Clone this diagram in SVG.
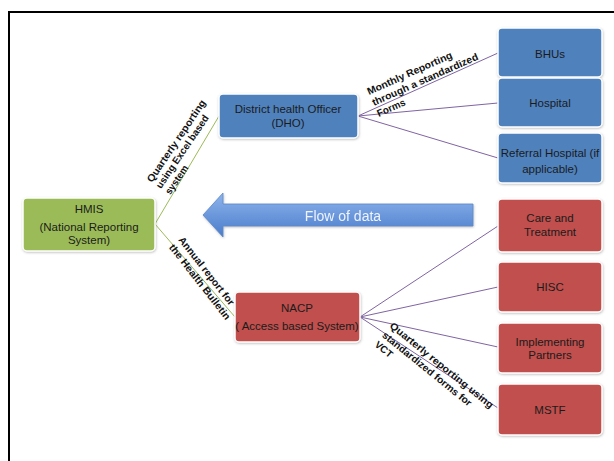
<svg xmlns="http://www.w3.org/2000/svg" width="614" height="461" viewBox="0 0 614 461">
<defs>
<style>
.box{stroke:#fff;stroke-width:1.5;filter:url(#sh)}
.blue{fill:#4f81bd}
.red{fill:#c0504d}
.green{fill:#9bbb59}
.nt{font-family:"Liberation Sans",Arial,sans-serif;font-size:11.5px;fill:#1b1b1b;text-anchor:middle}
.lbl{font-family:"Liberation Sans",Arial,sans-serif;font-size:10px;font-weight:bold;fill:#111}
.cg{stroke:#9bbb59;stroke-width:1;fill:none}
.cp{stroke:#8064a2;stroke-width:1;fill:none}
</style>
<filter id="sh" x="-10%" y="-10%" width="120%" height="125%">
<feDropShadow dx="0.5" dy="1" stdDeviation="1" flood-color="#777" flood-opacity="0.45"/>
</filter>
<linearGradient id="ag" x1="0" y1="0" x2="0" y2="1">
<stop offset="0" stop-color="#8db4ec"/>
<stop offset="1" stop-color="#4a7ccb"/>
</linearGradient>
</defs>
<rect x="0" y="0" width="614" height="461" fill="#fff"/>
<rect x="9" y="12" width="620" height="470" fill="none" stroke="#000" stroke-width="2"/>

<g id="connectors">
<line class="cg" x1="155" y1="224" x2="219" y2="116"/>
<line class="cg" x1="155" y1="224" x2="235" y2="317"/>
<line class="cp" x1="358" y1="116" x2="498" y2="53"/>
<line class="cp" x1="358" y1="116" x2="498" y2="103"/>
<line class="cp" x1="358" y1="116" x2="498" y2="158"/>
<line class="cp" x1="360" y1="317" x2="498" y2="226"/>
<line class="cp" x1="360" y1="317" x2="498" y2="287"/>
<line class="cp" x1="360" y1="317" x2="498" y2="347"/>
<line class="cp" x1="360" y1="317" x2="498" y2="408"/>
</g>

<g id="connector-labels">
<g transform="translate(152,183) rotate(-56)">
<text class="lbl" x="0" y="0" textLength="97" lengthAdjust="spacingAndGlyphs">Quarterly reporting</text>
<text class="lbl" x="0" y="11" textLength="86" lengthAdjust="spacingAndGlyphs">using Excel based</text>
<text class="lbl" x="0" y="22" textLength="33" lengthAdjust="spacingAndGlyphs">system</text>
</g>
<g transform="translate(369,95) rotate(-24)">
<text class="lbl" x="0" y="0" textLength="92" lengthAdjust="spacingAndGlyphs">Monthly Reporting</text>
<text class="lbl" x="0" y="12" textLength="115" lengthAdjust="spacingAndGlyphs">through a standardized</text>
<text class="lbl" x="0" y="24" textLength="30" lengthAdjust="spacingAndGlyphs">Forms</text>
</g>
<g transform="translate(178,240) rotate(52)">
<text class="lbl" x="0" y="0" textLength="84" lengthAdjust="spacingAndGlyphs">Annual report for</text>
<text class="lbl" x="0" y="12" textLength="93" lengthAdjust="spacingAndGlyphs">the Health Bulletin</text>
</g>
<g transform="translate(389,327) rotate(39)">
<text class="lbl" x="0" y="0" textLength="130" lengthAdjust="spacingAndGlyphs">Quarterly reporting using</text>
<text class="lbl" x="0" y="12" textLength="112" lengthAdjust="spacingAndGlyphs">standardized forms for</text>
<text class="lbl" x="0" y="24" textLength="20" lengthAdjust="spacingAndGlyphs">VCT</text>
</g>
</g>

<g id="flow-arrow" filter="url(#sh)">
<polygon points="203,215 223,193 223,204 473,204 473,226 223,226 223,237" fill="url(#ag)" stroke="#5a88c8" stroke-width="0.8"/>
<text x="343" y="221" font-family="'Liberation Sans',Arial,sans-serif" font-size="14" fill="#eef3fc" text-anchor="middle">Flow of data</text>
</g>

<g id="hmis">
<rect class="box green" x="23" y="198" width="132" height="53" rx="4"/>
<text class="nt" x="89" y="213">HMIS</text>
<text class="nt" x="89" y="231">(National Reporting</text>
<text class="nt" x="89" y="244">System)</text>
</g>
<g id="dho">
<rect class="box blue" x="219" y="94" width="139" height="44" rx="4"/>
<text class="nt" x="288" y="113">District health Officer</text>
<text class="nt" x="288" y="127">(DHO)</text>
</g>
<g id="nacp">
<rect class="box red" x="235" y="292" width="125" height="50" rx="4"/>
<text class="nt" x="297" y="312">NACP</text>
<text class="nt" x="297" y="330">( Access based System)</text>
</g>
<g id="bhus">
<rect class="box blue" x="498" y="28" width="104" height="49" rx="4"/>
<text class="nt" x="550" y="58">BHUs</text>
</g>
<g id="hospital">
<rect class="box blue" x="498" y="78" width="104" height="49" rx="4"/>
<text class="nt" x="550" y="107">Hospital</text>
</g>
<g id="referral">
<rect class="box blue" x="498" y="133" width="104" height="50" rx="4"/>
<text class="nt" x="550" y="157">Referral Hospital (if</text>
<text class="nt" x="550" y="173">applicable)</text>
</g>
<g id="care">
<rect class="box red" x="498" y="199" width="104" height="53" rx="4"/>
<text class="nt" x="550" y="222">Care and</text>
<text class="nt" x="550" y="236">Treatment</text>
</g>
<g id="hisc">
<rect class="box red" x="498" y="262" width="104" height="50" rx="4"/>
<text class="nt" x="550" y="291">HISC</text>
</g>
<g id="implementing">
<rect class="box red" x="498" y="323" width="104" height="50" rx="4"/>
<text class="nt" x="550" y="346">Implementing</text>
<text class="nt" x="550" y="359">Partners</text>
</g>
<g id="mstf">
<rect class="box red" x="498" y="384" width="104" height="51" rx="4"/>
<text class="nt" x="550" y="414">MSTF</text>
</g>
</svg>
